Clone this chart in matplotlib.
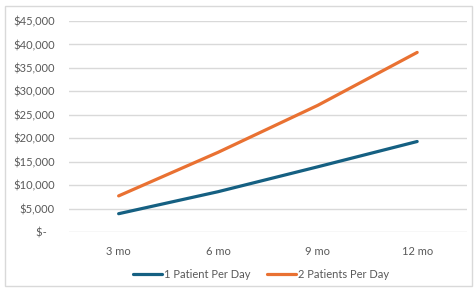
import matplotlib.pyplot as plt
from matplotlib.patches import Rectangle

months = ["3 mo", "6 mo", "9 mo", "12 mo"]
one_patient = [3900, 8600, 13900, 19300]
two_patients = [7700, 17000, 27000, 38300]
y_ticks = [0, 5000, 10000, 15000, 20000, 25000, 30000, 35000, 40000, 45000]

plt.rcParams["font.family"] = ["Lato", "DejaVu Sans"]
text_col = "#595959"

fig = plt.figure(figsize=(4.75, 2.9), dpi=100)
fig.patches.append(Rectangle((0.011, 0.014), 0.983, 0.965, transform=fig.transFigure,
                             fill=False, edgecolor="#d9d9d9", linewidth=1))
ax = fig.add_axes([0.145, 0.2, 0.838, 0.7276])

x = range(len(months))
ax.plot(x, one_patient, color="#156082", linewidth=2.3, label="1 Patient Per Day",
        solid_capstyle="round")
ax.plot(x, two_patients, color="#E97132", linewidth=2.3, label="2 Patients Per Day",
        solid_capstyle="round")

ax.set_xlim(-0.5, 3.5)
ax.set_ylim(0, 45000)
ax.set_xticks(list(x))
ax.set_xticklabels(months)
ax.set_yticks(y_ticks)
ax.set_yticklabels(["$-   "] + [f"${v:,}" for v in y_ticks[1:]])
ax.grid(axis="y", color="#d9d9d9", linewidth=1)
ax.set_axisbelow(True)
for s in ax.spines.values():
    s.set_visible(False)
ax.tick_params(length=0, colors=text_col, labelsize=8)
ax.tick_params(axis="x", pad=10)
ax.tick_params(axis="y", pad=10)

fig.legend(*ax.get_legend_handles_labels(), loc="center", bbox_to_anchor=(0.55, 0.055),
           ncol=2, frameon=False, fontsize=8, labelcolor=text_col, handlelength=2.6,
           handletextpad=0.2, columnspacing=1.5)

fig.savefig("out.png", dpi=100)
